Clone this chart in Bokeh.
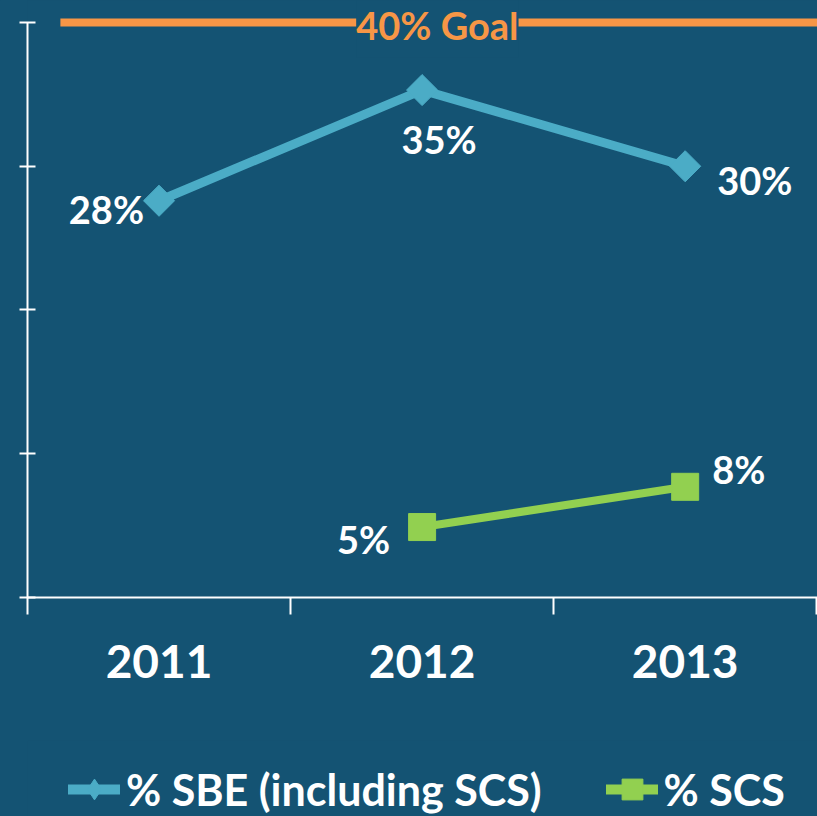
from bokeh.plotting import figure
from bokeh.layouts import column
from bokeh.models import (Range1d, FixedTicker, Label, Legend, LegendItem,
                          ColumnDataSource)
from bokeh.core.properties import value
from bokeh.embed import file_html
from bokeh.resources import INLINE
import math

# ---- data ----
years = ["2011", "2012", "2013"]
sbe_values = [27.6, 35.3, 30.0]
sbe_labels = ["28%", "35%", "30%"]
scs_years = ["2012", "2013"]
scs_values = [4.9, 7.7]
scs_labels = ["5%", "8%"]
goal_value = 40
goal_text = "40% Goal"
y_ticks = [0, 10, 20, 30, 40]
sbe_name = "% SBE (including SCS)"
scs_name = "% SCS"

# ---- styles ----
BG = "#145373"
BLUE = "#4BACC6"
GREEN = "#92D050"
ORANGE = "#F79646"
FONT = "Lato"

xpos = {y: i + 0.5 for i, y in enumerate(years)}

p = figure(width=817, height=740, output_backend="svg", toolbar_location=None,
           x_range=Range1d(0, 3.003), y_range=Range1d(0, 41.53),
           background_fill_color=BG, border_fill_color=BG,
           min_border_left=27, min_border_right=0, min_border_top=0,
           min_border_bottom=143)
p.outline_line_color = None
p.xgrid.visible = False
p.ygrid.visible = False

# x axis
xa = p.xaxis[0]
xa.ticker = FixedTicker(ticks=[xpos[y] for y in years],
                        minor_ticks=list(range(len(years) + 1)))
xa.major_label_overrides = {xpos[y]: y for y in years}
xa.major_tick_line_color = None
xa.minor_tick_line_color = "white"
xa.minor_tick_line_width = 2
xa.minor_tick_in = 0
xa.minor_tick_out = 17
xa.axis_line_color = "white"
xa.axis_line_width = 2
xa.major_label_text_color = "white"
xa.major_label_text_font = FONT
xa.major_label_text_font_style = "bold"
xa.major_label_text_font_size = "46px"
xa.major_label_standoff = 30

# y axis
ya = p.yaxis[0]
ya.ticker = FixedTicker(ticks=y_ticks)
ya.bounds = (y_ticks[0], y_ticks[-1])
ya.major_tick_in = 8
ya.major_tick_out = 8
ya.major_tick_line_color = "white"
ya.major_tick_line_width = 2
ya.minor_tick_line_color = None
ya.axis_line_color = "white"
ya.axis_line_width = 2
ya.major_label_overrides = {t: "" for t in y_ticks}
ya.major_label_standoff = 0

# goal line
p.line(x=[0.125, 3.003], y=[goal_value, goal_value], line_color=ORANGE, line_width=8)
p.add_layout(Label(x=1.558, y=goal_value, y_offset=-3, text=goal_text,
                   text_align="center", text_baseline="middle", text_color=ORANGE,
                   text_font=FONT, text_font_style="bold", text_font_size="38px",
                   background_fill_color=BG, padding=(0, 9)))

# SBE series
sbe_x = [xpos[y] for y in years]
sbe_line = p.line(sbe_x, sbe_values, line_color=BLUE, line_width=9, line_cap="round")
sbe_pts = p.scatter(sbe_x, sbe_values, marker="square", size=22, angle=math.pi / 4,
                    fill_color=BLUE, line_color=BLUE)

# SCS series
scs_x = [xpos[y] for y in scs_years]
scs_line = p.line(scs_x, scs_values, line_color=GREEN, line_width=8, line_cap="round")
scs_pts = p.scatter(scs_x, scs_values, marker="square", size=27,
                    fill_color=GREEN, line_color=GREEN)

# data labels
lab_src = ColumnDataSource(dict(
    x=sbe_x + scs_x,
    y=sbe_values + scs_values,
    t=sbe_labels + scs_labels,
    xo=[-15, 17, 32, -32, 27],
    yo=[8, 49, 14, 12, -18],
    al=["right", "center", "left", "right", "left"],
))
p.text(x="x", y="y", text="t", x_offset="xo", y_offset="yo", text_align="al",
       text_baseline="middle", text_color="white", text_font=value(FONT),
       text_font_style="bold", text_font_size="38px", source=lab_src)

# ---- legend strip ----
p2 = figure(width=817, height=76, output_backend="svg", toolbar_location=None,
            x_range=Range1d(10, 11), y_range=Range1d(100, 101),
            background_fill_color=BG, border_fill_color=None,
            x_axis_location=None, y_axis_location=None, min_border=0)
p2.styles = {"background-color": BG}
p2.outline_line_color = None
p2.xgrid.visible = False
p2.ygrid.visible = False
l_sbe = p2.line(sbe_x, sbe_values, line_color=BLUE, line_width=10, line_cap="round")
m_sbe = p2.scatter(sbe_x, sbe_values, marker="diamond",
                   fill_color=BLUE, line_color=BLUE)
l_scs = p2.line(scs_x, scs_values, line_color=GREEN, line_width=10, line_cap="round")
m_scs = p2.scatter(scs_x, scs_values, marker="square",
                   fill_color=GREEN, line_color=GREEN)

legend = Legend(items=[LegendItem(label=sbe_name, renderers=[l_sbe, m_sbe]),
                       LegendItem(label=scs_name, renderers=[l_scs, m_scs])],
                location=(41, -1), orientation="horizontal",
                background_fill_alpha=0, border_line_color=None,
                label_text_color="white", label_text_font=FONT,
                label_text_font_style="bold", label_text_font_size="43px",
                glyph_width=52, glyph_height=56, label_standoff=6, spacing=64,
                padding=0, margin=0)
p2.add_layout(legend)

layout = column(p, p2, spacing=0)
layout.styles = {"background-color": BG}
open("out.html", "w").write(file_html(layout, INLINE))
